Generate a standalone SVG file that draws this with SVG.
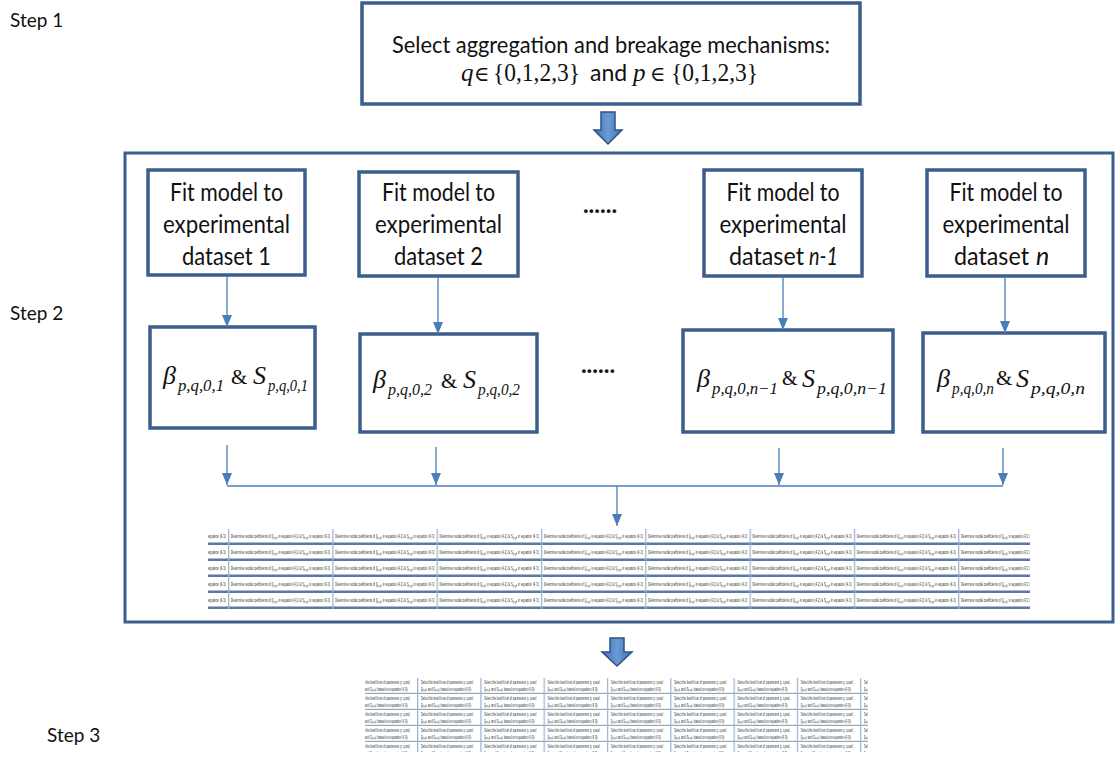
<svg xmlns="http://www.w3.org/2000/svg" width="1117" height="767" viewBox="0 0 1117 767">
  <style>
    .box { fill: #ffffff; stroke: #3b5e8c; stroke-width: 3.5; }
    .frame { fill: none; stroke: #3b5e8c; stroke-width: 3; }
    .lbl { font-family: Lato, "Liberation Sans", sans-serif; fill: #111111; }
    .step { font-family: Lato, "Liberation Sans", sans-serif; font-size: 19px; fill: #111111; }
    .math { font-family: "Liberation Serif", "DejaVu Serif", serif; fill: #111111; }
    .it { font-style: italic; }
    .conn { stroke: #4a7ebb; stroke-width: 1.3; fill: none; }
    .tiny { font-family: "Liberation Sans", sans-serif; fill: #333333; }
  </style>
  <defs>
    <marker id="tri" viewBox="0 0 12 10" refX="12" refY="5" markerWidth="12" markerHeight="10" markerUnits="userSpaceOnUse" orient="auto">
      <path d="M0,0 L12,5 L0,10 Z" fill="#4a7ebb"/>
    </marker>
    <linearGradient id="blockFill" x1="0" y1="0" x2="1" y2="0">
      <stop offset="0" stop-color="#3f6fb0"/>
      <stop offset="0.5" stop-color="#6b9bd6"/>
      <stop offset="1" stop-color="#3f6fb0"/>
    </linearGradient>
    <!-- repeated cell of the coefficient table -->
    <pattern id="coefCell" patternUnits="userSpaceOnUse" x="228" y="529" width="104.3" height="16">
      <rect x="0" y="13.5" width="104.3" height="3" fill="#5b7aa1"/>
      <line x1="0.6" y1="0" x2="0.6" y2="16" stroke="#9db4d2" stroke-width="1.4"/>
      <text class="tiny" x="3" y="9" font-size="5.2" textLength="99" lengthAdjust="spacingAndGlyphs">Determine modal coefficients of β<tspan font-size="3.5" dy="1">p,q,0</tspan><tspan dy="-1"> in equation (4.2) &amp; S</tspan><tspan font-size="3.5" dy="1">p,q,0</tspan><tspan dy="-1"> in equation (4.3)</tspan></text>
    </pattern>
    <!-- repeated cell of the best-fit table -->
    <pattern id="fitCell" patternUnits="userSpaceOnUse" x="417" y="678" width="63.3" height="16">
      <rect x="0" y="14.8" width="63.3" height="2" fill="#8fa8c8"/>
      <line x1="0.6" y1="0" x2="0.6" y2="16" stroke="#9db4d2" stroke-width="1.3"/>
      <text class="tiny" x="4" y="5.5" font-size="5" textLength="52" lengthAdjust="spacingAndGlyphs">Select the best fit set of parameters p, q and</text>
      <text class="tiny" x="4" y="12.5" font-size="5" textLength="50" lengthAdjust="spacingAndGlyphs">β<tspan font-size="3.4" dy="0.8">p,q,0</tspan><tspan dy="-0.8"> and S</tspan><tspan font-size="3.4" dy="0.8">p,q,0</tspan><tspan dy="-0.8"> based on equation (4.9)</tspan></text>
    </pattern>
  </defs>

  <rect width="1117" height="767" fill="#ffffff"/>

  <!-- step labels -->
  <text class="step" x="10" y="27">Step 1</text>
  <text class="step" x="10" y="320">Step 2</text>
  <text class="step" x="47" y="742">Step 3</text>

  <!-- step 1: mechanism selection -->
  <g id="select-mechanisms">
    <rect class="box" x="362" y="3" width="498" height="101"/>
    <text class="lbl" x="611" y="53" font-size="23" text-anchor="middle" textLength="438" lengthAdjust="spacingAndGlyphs">Select aggregation and breakage mechanisms:</text>
    <text class="math it" x="461" y="81" font-size="25">q</text>
    <text class="math" x="474" y="81" font-size="21">∈</text>
    <text class="math" x="493" y="81" font-size="25" textLength="87" lengthAdjust="spacingAndGlyphs">{0,1,2,3}</text>
    <text class="lbl" x="590" y="81" font-size="23">and</text>
    <text class="math it" x="633" y="81" font-size="25">p</text>
    <text class="math" x="650" y="81" font-size="21">∈</text>
    <text class="math" x="671" y="81" font-size="25" textLength="87" lengthAdjust="spacingAndGlyphs">{0,1,2,3}</text>
  </g>

  <!-- block arrow into step 2 -->
  <path d="M601,112 H615 V130 H622 L608,144 L594,130 H601 Z" fill="url(#blockFill)" stroke="#2f5282" stroke-width="1.5"/>

  <!-- step 2 container -->
  <g id="step2-frame">
    <rect class="frame" x="125" y="153" width="988" height="469"/>
  </g>

  <!-- fit nodes -->
  <g id="fit-1">
    <rect class="box" x="148" y="170" width="157" height="105"/>
    <text class="lbl" x="226.5" y="201" font-size="25" text-anchor="middle" textLength="113" lengthAdjust="spacingAndGlyphs">Fit model to</text>
    <text class="lbl" x="226.5" y="233" font-size="25" text-anchor="middle" textLength="127" lengthAdjust="spacingAndGlyphs">experimental</text>
    <text class="lbl" x="226.5" y="265" font-size="25" text-anchor="middle" textLength="89" lengthAdjust="spacingAndGlyphs">dataset 1</text>
  </g>
  <g id="fit-2">
    <rect class="box" x="359" y="172" width="159" height="104"/>
    <text class="lbl" x="438.5" y="201" font-size="25" text-anchor="middle" textLength="113" lengthAdjust="spacingAndGlyphs">Fit model to</text>
    <text class="lbl" x="438.5" y="233" font-size="25" text-anchor="middle" textLength="127" lengthAdjust="spacingAndGlyphs">experimental</text>
    <text class="lbl" x="438.5" y="265" font-size="25" text-anchor="middle" textLength="89" lengthAdjust="spacingAndGlyphs">dataset 2</text>
  </g>
  <g id="fit-n-1">
    <rect class="box" x="704" y="170" width="158" height="106"/>
    <text class="lbl" x="783" y="201" font-size="25" text-anchor="middle" textLength="113" lengthAdjust="spacingAndGlyphs">Fit model to</text>
    <text class="lbl" x="783" y="233" font-size="25" text-anchor="middle" textLength="127" lengthAdjust="spacingAndGlyphs">experimental</text>
    <text class="lbl" x="729" y="265" font-size="25" textLength="75" lengthAdjust="spacingAndGlyphs">dataset</text>
    <text class="lbl it" x="809" y="265" font-size="25" textLength="29" lengthAdjust="spacingAndGlyphs">n-1</text>
  </g>
  <g id="fit-n">
    <rect class="box" x="927" y="170" width="158" height="106"/>
    <text class="lbl" x="1006" y="201" font-size="25" text-anchor="middle" textLength="113" lengthAdjust="spacingAndGlyphs">Fit model to</text>
    <text class="lbl" x="1006" y="233" font-size="25" text-anchor="middle" textLength="127" lengthAdjust="spacingAndGlyphs">experimental</text>
    <text class="lbl" x="954" y="265" font-size="25" textLength="75" lengthAdjust="spacingAndGlyphs">dataset</text>
    <text class="lbl it" x="1036" y="265" font-size="25">n</text>
  </g>

  <!-- ellipses between columns -->
  <text class="lbl" x="600" y="213" font-size="24" text-anchor="middle" font-weight="bold">......</text>
  <text class="lbl" x="598" y="373" font-size="24" text-anchor="middle" font-weight="bold">......</text>

  <!-- coefficient result nodes -->
  <g id="coef-1">
    <rect class="box" x="150" y="327" width="165" height="101"/>
    <text class="math it" x="163" y="384" font-size="26">β</text>
    <text class="math it" x="178" y="391" font-size="16" textLength="46" lengthAdjust="spacingAndGlyphs">p,q,0,1</text>
    <text class="math" x="231" y="384" font-size="21">&amp;</text>
    <text class="math it" x="253" y="384" font-size="26">S</text>
    <text class="math it" x="268" y="391" font-size="16" textLength="40" lengthAdjust="spacingAndGlyphs">p,q,0,1</text>
  </g>
  <g id="coef-2">
    <rect class="box" x="360" y="334" width="177" height="98"/>
    <text class="math it" x="373" y="388" font-size="26">β</text>
    <text class="math it" x="388" y="395" font-size="16" textLength="44" lengthAdjust="spacingAndGlyphs">p,q,0,2</text>
    <text class="math" x="441" y="388" font-size="21">&amp;</text>
    <text class="math it" x="463" y="388" font-size="26">S</text>
    <text class="math it" x="478" y="395" font-size="16" textLength="42" lengthAdjust="spacingAndGlyphs">p,q,0,2</text>
  </g>
  <g id="coef-n-1">
    <rect class="box" x="683" y="330" width="210" height="102"/>
    <text class="math it" x="697" y="387" font-size="26">β</text>
    <text class="math it" x="712" y="394" font-size="16" textLength="66" lengthAdjust="spacingAndGlyphs">p,q,0,n−1</text>
    <text class="math" x="782" y="385" font-size="20">&amp;</text>
    <text class="math it" x="802" y="387" font-size="26">S</text>
    <text class="math it" x="817" y="394" font-size="16" textLength="70" lengthAdjust="spacingAndGlyphs">p,q,0,n−1</text>
  </g>
  <g id="coef-n">
    <rect class="box" x="923" y="333" width="182" height="99"/>
    <text class="math it" x="937" y="387" font-size="26">β</text>
    <text class="math it" x="952" y="394" font-size="16" textLength="42" lengthAdjust="spacingAndGlyphs">p,q,0,n</text>
    <text class="math" x="996" y="385" font-size="21">&amp;</text>
    <text class="math it" x="1016" y="387" font-size="26">S</text>
    <text class="math it" x="1031" y="394" font-size="16" textLength="54" lengthAdjust="spacingAndGlyphs">p,q,0,n</text>
  </g>

  <!-- connectors -->
  <g id="connectors">
    <line class="conn" x1="227" y1="276" x2="227" y2="327" marker-end="url(#tri)"/>
    <line class="conn" x1="438" y1="277" x2="438" y2="334" marker-end="url(#tri)"/>
    <line class="conn" x1="783" y1="277" x2="783" y2="330" marker-end="url(#tri)"/>
    <line class="conn" x1="1005" y1="277" x2="1005" y2="333" marker-end="url(#tri)"/>

    <line class="conn" x1="227" y1="445" x2="227" y2="485" marker-end="url(#tri)"/>
    <line class="conn" x1="436" y1="447" x2="436" y2="485" marker-end="url(#tri)"/>
    <line class="conn" x1="779" y1="448" x2="779" y2="485" marker-end="url(#tri)"/>
    <line class="conn" x1="1003" y1="448" x2="1003" y2="485" marker-end="url(#tri)"/>
    <line class="conn" x1="227" y1="486" x2="1003" y2="486"/>
    <line class="conn" x1="617" y1="486" x2="617" y2="526" marker-end="url(#tri)"/>
  </g>

  <!-- coefficient table -->
  <g id="coef-table">
    <rect x="208" y="529" width="822" height="80" fill="url(#coefCell)"/>
  </g>

  <!-- block arrow into step 3 -->
  <path d="M610,638 H624 V652 H632 L617,666 L602,652 H610 Z" fill="url(#blockFill)" stroke="#2f5282" stroke-width="1.5"/>

  <!-- best-fit table -->
  <g id="fit-table">
    <rect x="365" y="678" width="503" height="74" fill="url(#fitCell)"/>
  </g>
</svg>
